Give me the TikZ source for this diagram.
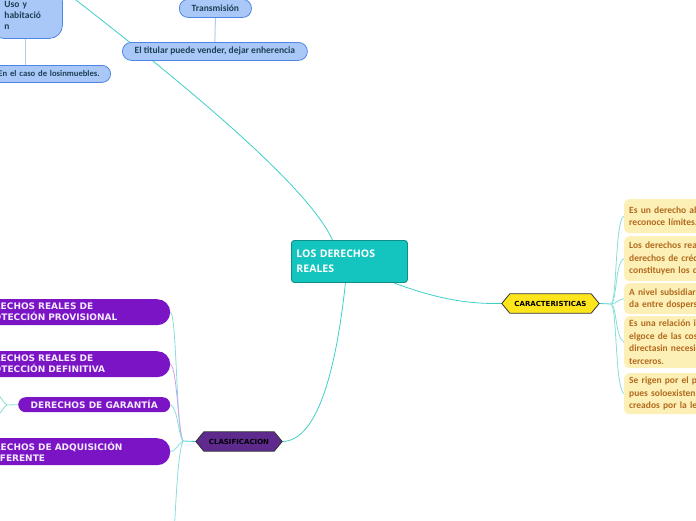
\documentclass[tikz,border=0pt]{standalone}
\usepackage{fontspec}
\setmainfont{Carlito}
\newfontfamily\dv{DejaVu Sans}
\newfontfamily\opn{Open Sans}
\pgfdeclarelayer{bg}
\pgfdeclarelayer{mid}
\pgfsetlayers{bg,mid,main}
\definecolor{tealc}{HTML}{14C4BE}
\definecolor{tealb}{HTML}{0E8E89}
\definecolor{tline}{HTML}{3ECFC8}
\definecolor{tlight}{HTML}{86DFDA}
\definecolor{lblue}{HTML}{A9C8F8}
\definecolor{bblue}{HTML}{4F86E6}
\definecolor{btext}{HTML}{1E3F55}
\definecolor{bline}{HTML}{AFC8F5}
\definecolor{yfill}{HTML}{FDF0B6}
\definecolor{ytext}{HTML}{B26A1F}
\definecolor{yhex}{HTML}{FFE61C}
\definecolor{phex}{HTML}{5E2A8E}
\definecolor{pfill}{HTML}{7A14C4}
\definecolor{ptext}{HTML}{F4EAFF}
\definecolor{lav}{HTML}{C9A2F2}
\tikzset{
  central/.style={draw=tealb, line width=0.9pt, fill=tealc, rounded corners=3pt, text=white,
    font=\opn\bfseries\fontsize{10.5}{14.5}\selectfont, align=left, inner xsep=5pt, inner ysep=0pt},
  bluebox/.style={draw=bblue, line width=0.8pt, fill=lblue, text=btext,
    font=\bfseries\fontsize{9.5}{11}\selectfont, inner sep=0pt},
  yelbox/.style={fill=yfill, rounded corners=5pt, text=ytext, align=left,
    font=\bfseries\fontsize{9.5}{12.5}\selectfont, inner xsep=5pt, inner ysep=0pt, text width=150pt},
  hexlabel/.style={font=\dv\bfseries\fontsize{7}{8}\selectfont, inner sep=0pt, text=black},
  hexshape/.style={draw=black!80, line width=0.8pt, line join=miter},
  purpbox/.style={fill=pfill, text=ptext, font=\dv\bfseries\fontsize{9}{11}\selectfont,
    inner ysep=0pt},
  tconn/.style={draw=tline, line width=0.8pt},
  tlconn/.style={draw=tlight, line width=0.8pt},
  bconn/.style={draw=bline, line width=1pt},
}
\begin{document}
\begin{tikzpicture}[x=1pt,y=-1pt]
\useasboundingbox (0,0) rectangle (696,520);

% central
\node[central, anchor=north west, minimum width=116pt, minimum height=42pt, text width=106pt]
  (central) at (291,240) {LOS DERECHOS\\REALES};

% top light-blue nodes
\node[bluebox, rounded corners=8.5pt, anchor=north west, minimum width=72pt, minimum height=18pt]
  (trans) at (179,-1) {Transmisión};
\node[bluebox, rounded corners=9pt, anchor=north west, minimum width=185pt, minimum height=18pt]
  (titular) at (122,42) {El titular puede vender, dejar enherencia};
\node[bluebox, rounded corners=13pt, anchor=north west, minimum width=72pt, minimum height=50pt,
  align=left, text width=44pt, inner xsep=14pt]
  (uso) at (-10,-12) {\\[-1pt]Uso y\\habitació\\n};
\node[bluebox, rounded corners=8.5pt, anchor=north east, minimum width=180pt, minimum height=17pt,
  align=right, text width=166pt, inner xsep=11pt, font=\bfseries\fontsize{8.6}{10}\selectfont]
  (caso) at (111,65) {En el caso de losinmuebles.};

% CARACTERISTICAS
\node[hexlabel, minimum width=97pt, minimum height=19pt] (carac) at (550.5,303.5) {CARACTERISTICAS};
\coordinate (cfork) at (611,304);

% yellow boxes
\node[yelbox, anchor=north west, minimum height=34pt] (y1) at (624,199)
  {Es un derecho absoluto, no\\reconoce límites.};
\node[yelbox, anchor=north west, minimum height=45pt] (y2) at (624,236)
  {Los derechos reales, a dif\\derechos de crédito, no\\constituyen los derechos};
\node[yelbox, anchor=north west, minimum height=31pt] (y3) at (624,283)
  {A nivel subsidiario se\\da entre dospersonas};
\node[yelbox, anchor=north west, minimum height=52pt] (y4) at (624,316)
  {Es una relación inmediata\\elgoce de las cosas\\directasin necesidad de\\terceros.};
\node[yelbox, anchor=north west, minimum height=41pt] (y5) at (624,373)
  {Se rigen por el principio\\pues soloexisten los\\creados por la ley};

% CLASIFICACION
\node[hexlabel, minimum width=86pt, minimum height=19pt] (clas) at (239,441.5) {CLASIFICACION};
\coordinate (pfork) at (183,441);

% purple boxes
\node[purpbox, rounded corners=13pt, anchor=north west, minimum width=202pt, minimum height=26pt,
  text width=178pt, inner xsep=12pt, align=left] (p1) at (-32,299)
  {DERECHOS REALES DE\\PROTECCIÓN PROVISIONAL};
\node[purpbox, rounded corners=13pt, anchor=north west, minimum width=202pt, minimum height=26pt,
  text width=178pt, inner xsep=12pt, align=left] (p2) at (-32,351)
  {DERECHOS REALES DE\\PROTECCIÓN DEFINITIVA};
\node[purpbox, rounded corners=7.5pt, anchor=north west, minimum width=152pt, minimum height=15pt,
  inner xsep=0pt] (p3) at (18,397) {DERECHOS DE GARANTÍA};
\node[purpbox, rounded corners=13pt, anchor=north west, minimum width=202pt, minimum height=27pt,
  text width=178pt, inner xsep=12pt, align=left] (p4) at (-32,438)
  {DERECHOS DE ADQUISICIÓN\\PREFERENTE};

\coordinate (offtl) at (50,-20);
\coordinate (offbot) at (174,535);
\coordinate (gfork) at (7,405);
\coordinate (goffa) at (-12,388);
\coordinate (goffb) at (-12,422);

% hexagons
\begin{pgfonlayer}{mid}
\draw[hexshape, fill=yhex] (carac.west) -- ([xshift=8pt]carac.north west) -- ([xshift=-8pt]carac.north east)
  -- (carac.east) -- ([xshift=-8pt]carac.south east) -- ([xshift=8pt]carac.south west) -- cycle;
\draw[hexshape, fill=phex] (clas.west) -- ([xshift=8pt]clas.north west) -- ([xshift=-8pt]clas.north east)
  -- (clas.east) -- ([xshift=-8pt]clas.south east) -- ([xshift=8pt]clas.south west) -- cycle;
\end{pgfonlayer}

% connectors
\begin{pgfonlayer}{bg}
\draw[tconn] ([xshift=-17pt]central.north) .. controls (310,190) and (200,95) .. (offtl);
\draw[bconn] (trans.south) -- (titular.north);
\draw[bconn] (uso.south -| 25,0) -- (caso.north -| 25,0);
\draw[tconn] ([xshift=-14pt]central.south east) .. controls (440,300) and (470,304) .. (carac.west);
\draw[tconn] ([xshift=-4pt]central.south) .. controls (335,380) and (315,441) .. (clas.east);
% yellow fork
\draw[tconn] (carac.east) -- (cfork);
\draw[tlconn] (cfork) .. controls (617,302) and (615,219) .. (y1.west);
\draw[tlconn] (cfork) .. controls (617,302) and (615,262) .. (y2.west);
\draw[tlconn] (cfork) .. controls (618,303) and (617,300) .. (y3.west);
\draw[tlconn] (cfork) .. controls (617,306) and (615,337) .. (y4.west);
\draw[tlconn] (cfork) .. controls (617,306) and (615,388) .. (y5.west);
% purple fork
\draw[tconn] (clas.west) -- (pfork);
\draw[tlconn] (p1.east) .. controls (177,316) and (176,430) .. (pfork);
\draw[draw=lav, line width=0.8pt] (p2.east) .. controls (177,367) and (178,430) .. (pfork);
\draw[tlconn] (p3.east) .. controls (178,408) and (178,435) .. (pfork);
\draw[tlconn] (p4.east) .. controls (176,451) and (178,444) .. (pfork);
\draw[tlconn] (pfork) .. controls (178,452) and (176,500) .. (offbot);
% garantia fork
\draw[tlconn] (p3.west) -- (gfork);
\draw[tlconn] (gfork) .. controls (3,404) and (2,394) .. (goffa);
\draw[tlconn] (gfork) .. controls (3,406) and (2,416) .. (goffb);
\end{pgfonlayer}
\end{tikzpicture}
\end{document}
